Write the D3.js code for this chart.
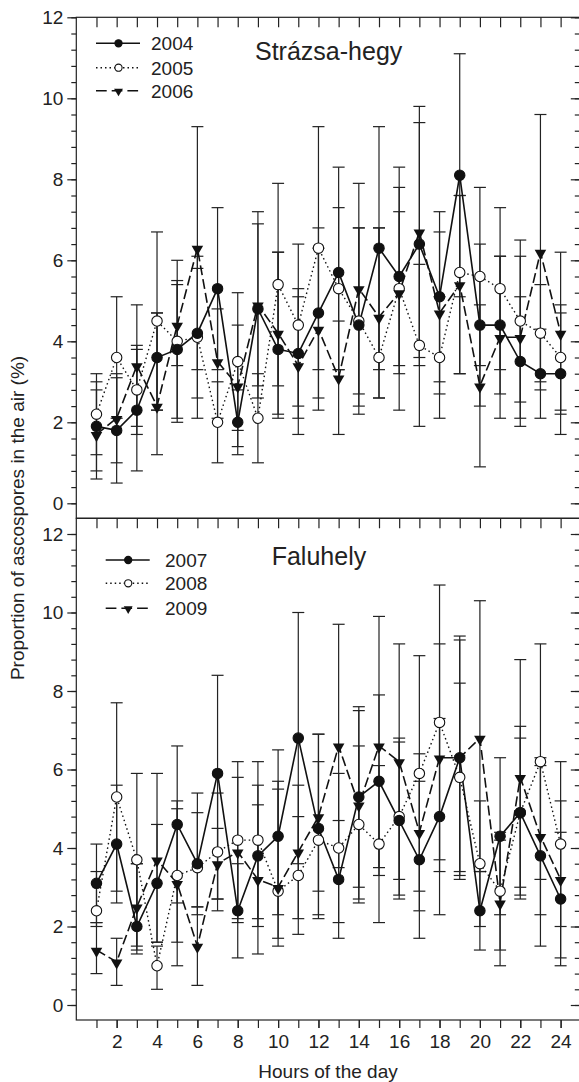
<!DOCTYPE html>
<html>
<head>
<meta charset="utf-8">
<script src="https://cdn.jsdelivr.net/npm/d3@7"></script>
<style>
  body { margin: 0; background: #fff; }
  svg { display: block; font-family: "Liberation Sans", Arial, sans-serif; }
</style>
</head>
<body>
<div id="chart"></div>
<script>
// hours of the day
var hours = [1,2,3,4,5,6,7,8,9,10,11,12,13,14,15,16,17,18,19,20,21,22,23,24];

// Strázsa-hegy (mean, lower and upper end of the error bar)
var v2004  = [1.9,1.8,2.3,3.6,3.8,4.2,5.3,2.0,4.8,3.8,3.7,4.7,5.7,4.4,6.3,5.6,6.4,5.1,8.1,4.4,4.4,3.5,3.2,3.2];
var lo2004 = [0.8,0.5,0.8,1.2,2.1,2.1,3.3,1.2,2.9,2.1,2.1,2.6,3.3,2.2,3.3,3.4,3.4,3.0,5.1,2.4,2.7,1.9,2.1,1.7];
var hi2004 = [3.0,3.1,3.8,4.7,5.4,6.1,7.3,2.8,6.9,6.2,5.3,6.8,8.3,6.8,9.3,8.3,9.4,7.2,11.1,6.4,6.1,5.1,4.3,4.7];

var v2005  = [2.2,3.6,2.8,4.5,4.0,4.1,2.0,3.5,2.1,5.4,4.4,6.3,5.3,4.5,3.6,5.3,3.9,3.6,5.7,5.6,5.3,4.5,4.2,3.6];
var lo2005 = [1.2,2.1,1.7,2.3,2.0,2.6,1.0,1.8,1.0,2.9,2.4,3.3,3.3,2.4,2.6,3.2,1.9,2.1,3.2,3.4,3.3,2.5,3.0,2.3];
var hi2005 = [3.2,5.1,3.9,6.7,5.5,5.8,3.0,5.2,3.2,7.9,6.4,9.3,7.3,6.8,6.8,7.2,5.9,5.1,7.6,7.8,7.3,6.5,5.4,4.9];

var v2006  = [1.7,2.1,3.4,2.4,4.4,6.3,3.5,2.9,4.9,4.2,3.4,4.3,3.1,5.3,4.6,5.2,6.7,4.7,5.4,2.9,4.1,4.1,6.2,4.2];
var lo2006 = [0.6,1.0,1.9,2.3,3.4,3.3,2.1,1.4,2.6,2.2,1.7,2.3,1.7,2.7,2.6,2.3,3.6,2.7,3.2,0.9,2.1,2.1,2.8,2.2];
var hi2006 = [2.8,3.2,4.9,4.7,6.0,9.3,4.8,4.4,7.2,6.2,5.1,6.3,4.5,7.9,6.8,7.8,9.8,6.7,7.6,4.9,6.1,6.1,9.6,6.2];

// Faluhely
var v2007  = [3.1,4.1,2.0,3.1,4.6,3.6,5.9,2.4,3.8,4.3,6.8,4.5,3.2,5.3,5.7,4.7,3.7,4.8,6.3,2.4,4.3,4.9,3.8,2.7];
var lo2007 = [2.1,2.6,1.3,1.6,2.6,2.3,2.7,1.2,1.3,2.3,3.6,2.3,1.7,3.0,3.5,2.7,1.7,2.3,3.3,1.4,2.3,2.7,1.5,1.0];
var hi2007 = [4.1,5.6,3.6,4.6,6.6,5.4,8.4,3.6,5.6,6.5,10.0,6.9,4.7,7.6,7.9,6.7,5.7,7.3,9.3,3.4,6.3,7.1,6.1,4.4];

var v2008  = [2.4,5.3,3.7,1.0,3.3,3.5,3.9,4.2,4.2,2.9,3.3,4.2,4.0,4.6,4.1,4.8,5.9,7.2,5.8,3.6,2.9,4.9,6.2,4.1];
var lo2008 = [2.0,2.9,1.5,0.4,1.6,2.5,2.4,2.2,2.2,1.5,1.8,2.2,2.1,2.7,2.1,2.8,2.9,3.7,3.2,2.0,1.4,3.0,3.2,2.0];
var hi2008 = [3.4,7.7,5.9,1.5,5.0,4.9,5.4,6.2,6.2,5.5,4.8,6.2,5.9,6.6,6.1,6.8,8.9,10.7,8.2,5.2,4.4,6.8,9.2,6.2];

var v2009  = [1.4,1.1,2.5,3.7,3.1,1.5,3.6,3.9,3.2,3.0,3.9,4.8,6.6,5.1,6.6,6.2,4.4,6.3,6.3,6.8,2.6,5.8,4.3,3.2];
var lo2009 = [0.8,0.5,1.4,1.6,1.0,0.5,2.7,2.1,2.0,1.7,2.2,2.9,3.5,2.6,3.3,3.2,2.4,3.4,3.4,3.4,1.0,2.8,2.3,1.2];
var hi2009 = [2.1,1.7,3.6,5.9,5.2,2.5,4.5,5.8,5.1,5.7,5.6,6.9,9.7,7.5,9.9,9.2,6.4,9.2,9.4,10.3,4.2,8.8,6.3,5.2];

var yTicks = [0,2,4,6,8,10,12];
var xTickLabels = [2,4,6,8,10,12,14,16,18,20,22,24];

var width = 579, height = 1082;
var fs = 19;

var svg = d3.select("#chart").append("svg")
    .attr("width", width)
    .attr("height", height);

var x = d3.scaleLinear().domain([0, 25]).range([76.3, 580.8]);

// line styles for the three years of each panel
var styles = [
  {dash: null, marker: "filled"},
  {dash: "1.5,3", marker: "open"},
  {dash: "10,4", marker: "tri"}
];

var panels = [
  {title: "Strázsa-hegy", titleX: 255, titleY: 60, top: 17.3, bottom: 518.3, y0: 503.3, y12: 17.3,
   legX: 96, legTextX: 151, legY: [43.3, 67.7, 90.7],
   years: ["2004", "2005", "2006"],
   series: [[v2004, lo2004, hi2004], [v2005, lo2005, hi2005], [v2006, lo2006, hi2006]]},
  {title: "Faluhely", titleX: 271.7, titleY: 565, top: 518.3, bottom: 1020, y0: 1005, y12: 534,
   legX: 105.7, legTextX: 165, legY: [560, 583.3, 608.3],
   years: ["2007", "2008", "2009"],
   series: [[v2007, lo2007, hi2007], [v2008, lo2008, hi2008], [v2009, lo2009, hi2009]]}
];

function drawMarker(g, kind, cx, cy, small) {
  if (kind === "tri") {
    g.append("path")
      .attr("d", d3.symbol().type(d3.symbolTriangle).size(small ? 34 : 58)())
      .attr("transform", "translate(" + cx + "," + (cy + (small ? 0.5 : 1)) + ") rotate(180)")
      .attr("fill", "#111");
  } else {
    g.append("circle")
      .attr("cx", cx).attr("cy", cy)
      .attr("r", small ? 3.6 : 5.2)
      .attr("fill", kind === "filled" ? "#111" : "#fff")
      .attr("stroke", "#111")
      .attr("stroke-width", 1.1);
  }
}

panels.forEach(function(p, pi) {
  var y = d3.scaleLinear().domain([0, 12]).range([p.y0, p.y12]);
  var g = svg.append("g");

  // left axis: major + minor ticks
  var minor = [];
  for (var t = 0; t <= 12.001; t += 0.4) minor.push(+t.toFixed(1));
  g.append("g").attr("transform", "translate(" + x(0) + ",0)")
    .call(d3.axisLeft(y).tickValues(minor).tickSize(5).tickFormat(""))
    .call(function(a) { a.select(".domain").remove(); });
  g.append("g").attr("transform", "translate(" + x(0) + ",0)")
    .call(d3.axisLeft(y).tickValues(yTicks).tickSize(9).tickPadding(4).tickFormat(d3.format("d")))
    .call(function(a) {
      a.select(".domain").remove();
      a.selectAll("text").attr("font-size", fs).attr("font-family", "Liberation Sans, Arial, sans-serif").attr("fill", "#222");
    });

  // right axis, ticks inward
  g.append("g").attr("transform", "translate(" + x(25) + ",0)")
    .call(d3.axisLeft(y).tickValues(minor).tickSize(6).tickFormat(""))
    .call(function(a) { a.select(".domain").remove(); });
  g.append("g").attr("transform", "translate(" + x(25) + ",0)")
    .call(d3.axisLeft(y).tickValues(yTicks).tickSize(10).tickFormat(""))
    .call(function(a) { a.select(".domain").remove(); });

  // top ticks inward
  g.append("g").attr("transform", "translate(0," + p.top + ")")
    .call(d3.axisBottom(x).tickValues(hours).tickSize(10).tickFormat(""))
    .call(function(a) { a.select(".domain").remove(); });

  // frame
  g.append("rect")
    .attr("x", x(0)).attr("y", p.top)
    .attr("width", x(25) - x(0)).attr("height", p.bottom - p.top)
    .attr("fill", "none").attr("stroke", "#222").attr("stroke-width", 1.2);

  // error bars
  p.series.forEach(function(s) {
    var eb = g.append("g").attr("stroke", "#222").attr("stroke-width", 1.2);
    hours.forEach(function(h, i) {
      var cx = x(h);
      eb.append("line").attr("x1", cx).attr("x2", cx).attr("y1", y(s[1][i])).attr("y2", y(s[2][i]));
      eb.append("line").attr("x1", cx - 6).attr("x2", cx + 6).attr("y1", y(s[1][i])).attr("y2", y(s[1][i]));
      eb.append("line").attr("x1", cx - 6).attr("x2", cx + 6).attr("y1", y(s[2][i])).attr("y2", y(s[2][i]));
    });
  });

  // lines
  var line = d3.line().x(function(d, i) { return x(hours[i]); }).y(function(d) { return y(d); });
  p.series.forEach(function(s, si) {
    g.append("path")
      .attr("d", line(s[0]))
      .attr("fill", "none")
      .attr("stroke", "#111")
      .attr("stroke-width", si === 1 ? 1.4 : 1.6)
      .attr("stroke-dasharray", styles[si].dash);
  });

  // markers
  [1, 0, 2].forEach(function(si) {
    var s = p.series[si];
    var mg = g.append("g");
    hours.forEach(function(h, i) { drawMarker(mg, styles[si].marker, x(h), y(s[0][i]), false); });
  });

  // legend
  p.years.forEach(function(yr, si) {
    var ly = p.legY[si];
    var lg = g.append("g");
    lg.append("line")
      .attr("x1", p.legX).attr("x2", p.legX + 44)
      .attr("y1", ly).attr("y2", ly)
      .attr("stroke", "#111").attr("stroke-width", si === 1 ? 1.4 : 1.6)
      .attr("stroke-dasharray", si === 0 ? null : (si === 1 ? "1.5,3" : "10.7,5"));
    drawMarker(lg, styles[si].marker, p.legX + 22.5, ly, true);
    lg.append("text")
      .attr("x", p.legTextX).attr("y", ly).attr("dy", "0.36em")
      .attr("font-size", fs).attr("fill", "#222")
      .text(yr);
  });

  // panel title
  g.append("text")
    .attr("x", p.titleX).attr("y", p.titleY)
    .attr("font-size", 25).attr("fill", "#222")
    .text(p.title);

  // bottom axis only for the lower panel
  if (pi === 1) {
    g.append("g").attr("transform", "translate(0," + p.bottom + ")")
      .call(d3.axisBottom(x).tickValues(hours).tickSize(8).tickFormat(""))
      .call(function(a) { a.select(".domain").remove(); });
    g.append("g").attr("transform", "translate(0," + p.bottom + ")")
      .call(d3.axisBottom(x).tickValues(xTickLabels).tickSize(8).tickPadding(7))
      .call(function(a) {
        a.select(".domain").remove();
        a.selectAll("text").attr("font-size", fs).attr("font-family", "Liberation Sans, Arial, sans-serif").attr("fill", "#222");
      });
  }
});

svg.selectAll(".tick line").attr("stroke", "#222").attr("stroke-width", 1.2);

// axis titles
svg.append("text")
  .attr("x", 328).attr("y", 1078)
  .attr("text-anchor", "middle")
  .attr("font-size", fs).attr("fill", "#222")
  .text("Hours of the day");

svg.append("text")
  .attr("transform", "translate(24,518) rotate(-90)")
  .attr("text-anchor", "middle")
  .attr("font-size", fs).attr("fill", "#222")
  .text("Proportion of ascospores in the air (%)");
</script>
</body>
</html>
